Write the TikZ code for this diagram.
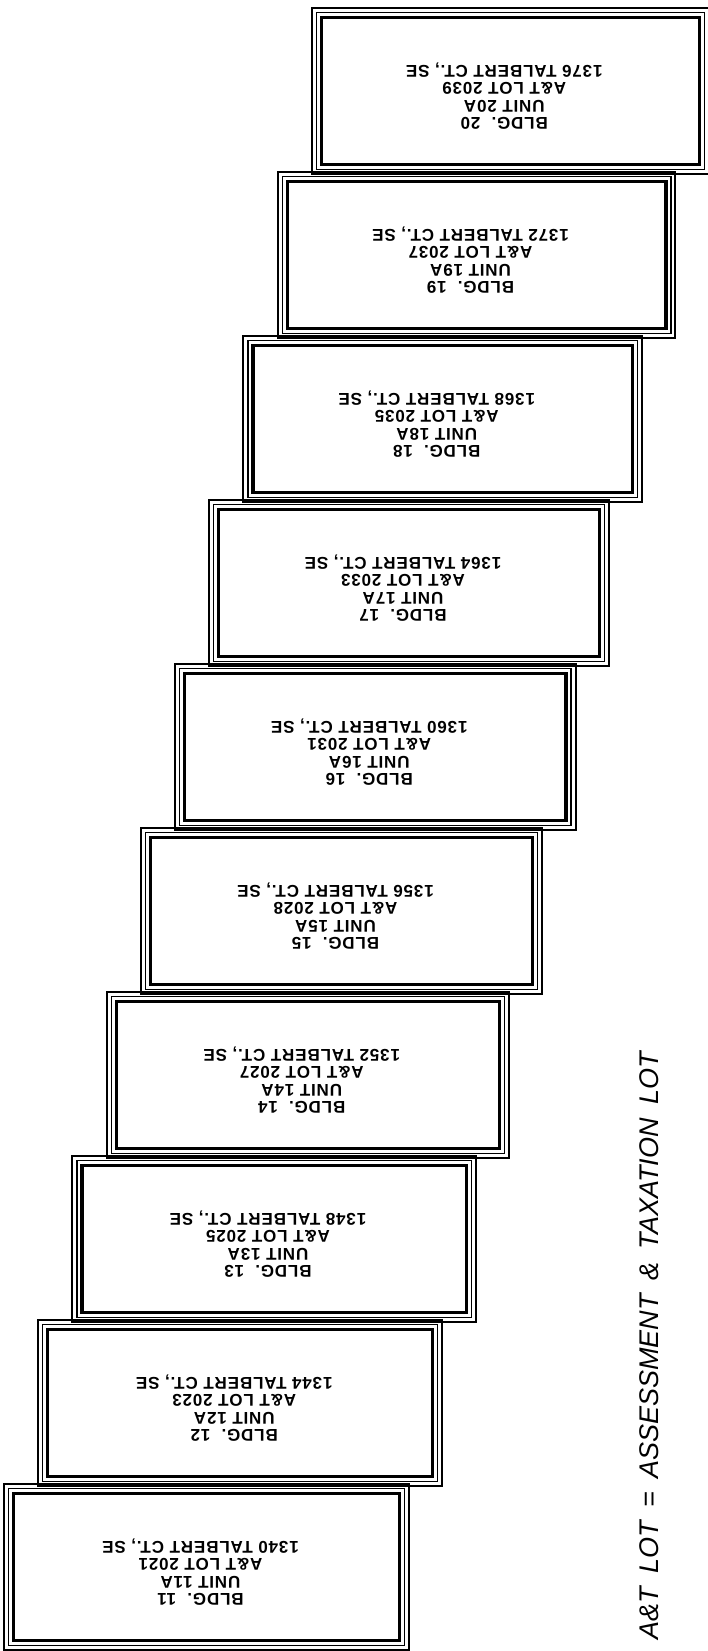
\documentclass[tikz,border=0pt]{standalone}
\usepackage{fontspec}
\setmainfont{Liberation Sans}
\begin{document}
\begin{tikzpicture}[x=1pt,y=-1pt,
  outerline/.style={line width=2pt},
  midline/.style={line width=1.2pt},
  innerline/.style={line width=3.2pt},
  lbl/.style={font=\fontsize{17}{17.5}\selectfont\bfseries\addfontfeatures{LetterSpace=5}, align=center, rotate=180, inner sep=0pt},
  legend/.style={font=\fontsize{27}{30}\selectfont\itshape, rotate=90, inner sep=0pt}]
\useasboundingbox (0,0) rectangle (708,1651);
\fill[white] (0,0) rectangle (708,1651);
\foreach \i/\b/\lot/\addr in {0/11/2021/1340, 1/12/2023/1344, 2/13/2025/1348, 3/14/2027/1352, 4/15/2028/1356, 5/16/2031/1360, 6/17/2033/1364, 7/18/2035/1368, 8/19/2037/1372, 9/20/2039/1376}{
  \pgfmathsetmacro\xl{4+34.2*\i}
  \pgfmathsetmacro\xr{409+33.3*\i}
  \pgfmathsetmacro\yt{1484-164*\i}
  \pgfmathsetmacro\yb{\yt+166}
  \pgfmathsetmacro\xc{(\xl+\xr)/2-6}
  \pgfmathsetmacro\yc{\yt+88}
  \draw[outerline] (\xl,\yt) rectangle (\xr,\yb);
  \draw[midline] (\xl+4.5,\yt+4.5) rectangle (\xr-4.5,\yb-4.5);
  \draw[innerline] (\xl+9.5,\yt+9.5) rectangle (\xr-9.5,\yb-9.5);
  \node[lbl] (b\b) at (\xc,\yc) {BLDG.~~\b\\UNIT \b A\\A\&T LOT \lot\\\addr\ TALBERT CT., SE};
}
\node[legend] (legend) at (649,1346) {A\&T\hspace{6pt} LOT\hspace{6pt} =\hspace{6pt} ASSESSMENT\hspace{6pt} \&\hspace{6pt} TAXATION\hspace{6pt} LOT};
\end{tikzpicture}
\end{document}
